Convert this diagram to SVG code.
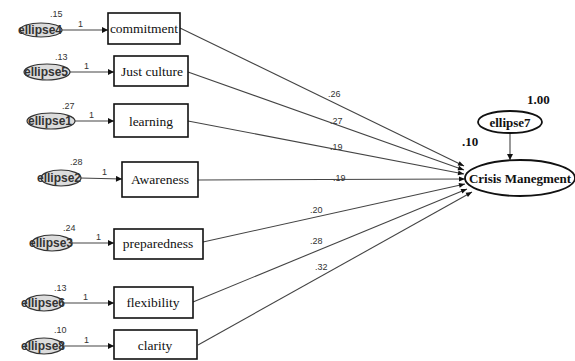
<svg xmlns="http://www.w3.org/2000/svg" width="575" height="361" viewBox="0 0 575 361">
<defs>
<marker id="ah" viewBox="0 0 10 10" refX="10" refY="5" markerWidth="8" markerHeight="6" markerUnits="userSpaceOnUse" orient="auto"><path d="M0,1 L10,5 L0,9 Z" fill="#111"/></marker>
<marker id="ahs" viewBox="0 0 10 10" refX="10" refY="5" markerWidth="12" markerHeight="6" markerUnits="userSpaceOnUse" orient="auto"><path d="M0,0 L10,5 L0,10 Z" fill="#111"/></marker>
</defs>
<style>
.box{fill:#fff;stroke:#111;stroke-width:1.6}
.err{fill:#dcdcdc;stroke:#333;stroke-width:1.2}
.el{fill:#fff;stroke:#111;stroke-width:1.8}
.bl{font-size:13.5px;fill:#111;text-anchor:middle}
.en{font-size:12px;font-weight:bold;fill:#333;text-anchor:middle}
.num{font-size:9px;fill:#333}
.bn{font-size:13px;font-weight:bold;fill:#111}
.sl{stroke:#444;stroke-width:1.1;fill:none;marker-end:url(#ahs)}
.pl{stroke:#444;stroke-width:1.1;fill:none;marker-end:url(#ah)}
</style>
<g id="connectors">
<line class="sl" x1="62" y1="30" x2="108" y2="30"/>
<line class="sl" x1="70" y1="72" x2="114" y2="72"/>
<line class="sl" x1="75" y1="121" x2="114" y2="121"/>
<line class="sl" x1="80" y1="178" x2="122" y2="179"/>
<line class="sl" x1="72" y1="243" x2="114" y2="243"/>
<line class="sl" x1="63" y1="303" x2="114" y2="303"/>
<line class="sl" x1="63" y1="346" x2="114" y2="346"/>
<line class="pl" x1="180" y1="28" x2="464" y2="166"/>
<line class="pl" x1="188" y1="72" x2="464" y2="170"/>
<line class="pl" x1="188" y1="121" x2="464" y2="174"/>
<line class="pl" x1="198" y1="180" x2="465" y2="179"/>
<line class="pl" x1="203" y1="242" x2="465" y2="184"/>
<line class="pl" x1="193" y1="302" x2="467" y2="189"/>
<line class="pl" x1="198" y1="345" x2="472" y2="192"/>
<line class="sl" x1="510" y1="133" x2="510" y2="160"/>
</g>
<g font-family="'Liberation Serif', 'Times New Roman', serif">
<g id="n-commitment"><rect class="box" x="108" y="13" width="72" height="31"/><text class="bl" x="144" y="32.5">commitment</text></g>
<g id="n-justculture"><rect class="box" x="114" y="56" width="74" height="30"/><text class="bl" x="152" y="76">Just culture</text></g>
<g id="n-learning"><rect class="box" x="114" y="104" width="74" height="33"/><text class="bl" x="151" y="125.5">learning</text></g>
<g id="n-awareness"><rect class="box" x="122" y="162" width="76" height="35"/><text class="bl" x="160" y="184">Awareness</text></g>
<g id="n-preparedness"><rect class="box" x="114" y="229" width="89" height="30"/><text class="bl" x="158" y="248">preparedness</text></g>
<g id="n-flexibility"><rect class="box" x="114" y="287" width="79" height="31"/><text class="bl" x="153" y="307">flexibility</text></g>
<g id="n-clarity"><rect class="box" x="114" y="330" width="83" height="29"/><text class="bl" x="155" y="350">clarity</text></g>
<g id="n-ellipse7"><ellipse class="el" cx="510" cy="122" rx="32" ry="11"/><text class="bn" x="510" y="126.5" text-anchor="middle">ellipse7</text><text class="bn" x="527" y="104">1.00</text></g>
<g id="n-crisis"><ellipse class="el" cx="520" cy="178" rx="55" ry="18"/><text class="bn" x="520" y="182.5" text-anchor="middle" font-size="13.5">Crisis Manegment</text><text class="bn" x="462" y="146">.10</text></g>
</g>
<g font-family="'Liberation Sans', Arial, sans-serif">
<g id="e-4"><ellipse class="err" cx="41" cy="30" rx="21" ry="7"/><text class="en" x="40" y="34">ellipse4</text><text class="num" x="50" y="17">.15</text><text class="num" x="78" y="27">1</text></g>
<g id="e-5"><ellipse class="err" cx="47" cy="72" rx="23" ry="8"/><text class="en" x="46" y="76">ellipse5</text><text class="num" x="55" y="60">.13</text><text class="num" x="84" y="69">1</text></g>
<g id="e-1"><ellipse class="err" cx="51" cy="121" rx="24" ry="8"/><text class="en" x="50" y="125">ellipse1</text><text class="num" x="62" y="109">.27</text><text class="num" x="89" y="118">1</text></g>
<g id="e-2"><ellipse class="err" cx="61" cy="178" rx="20" ry="8"/><text class="en" x="59" y="182">ellipse2</text><text class="num" x="70" y="165">.28</text><text class="num" x="102" y="175">1</text></g>
<g id="e-3"><ellipse class="err" cx="52" cy="243" rx="20" ry="8"/><text class="en" x="51" y="247">ellipse3</text><text class="num" x="63" y="231">.24</text><text class="num" x="96" y="240">1</text></g>
<g id="e-6"><ellipse class="err" cx="44" cy="303" rx="19" ry="8"/><text class="en" x="43" y="307">ellipse6</text><text class="num" x="54" y="291">.13</text><text class="num" x="83" y="300">1</text></g>
<g id="e-8"><ellipse class="err" cx="44" cy="346" rx="19" ry="8"/><text class="en" x="43" y="350">ellipse8</text><text class="num" x="54" y="333">.10</text><text class="num" x="84" y="343">1</text></g>
<g id="labels" class="num">
<text x="328" y="97">.26</text>
<text x="330" y="124">.27</text>
<text x="330" y="150">.19</text>
<text x="333" y="181">.19</text>
<text x="310" y="213">.20</text>
<text x="310" y="244">.28</text>
<text x="315" y="270">.32</text>
</g>
</g>
</svg>
